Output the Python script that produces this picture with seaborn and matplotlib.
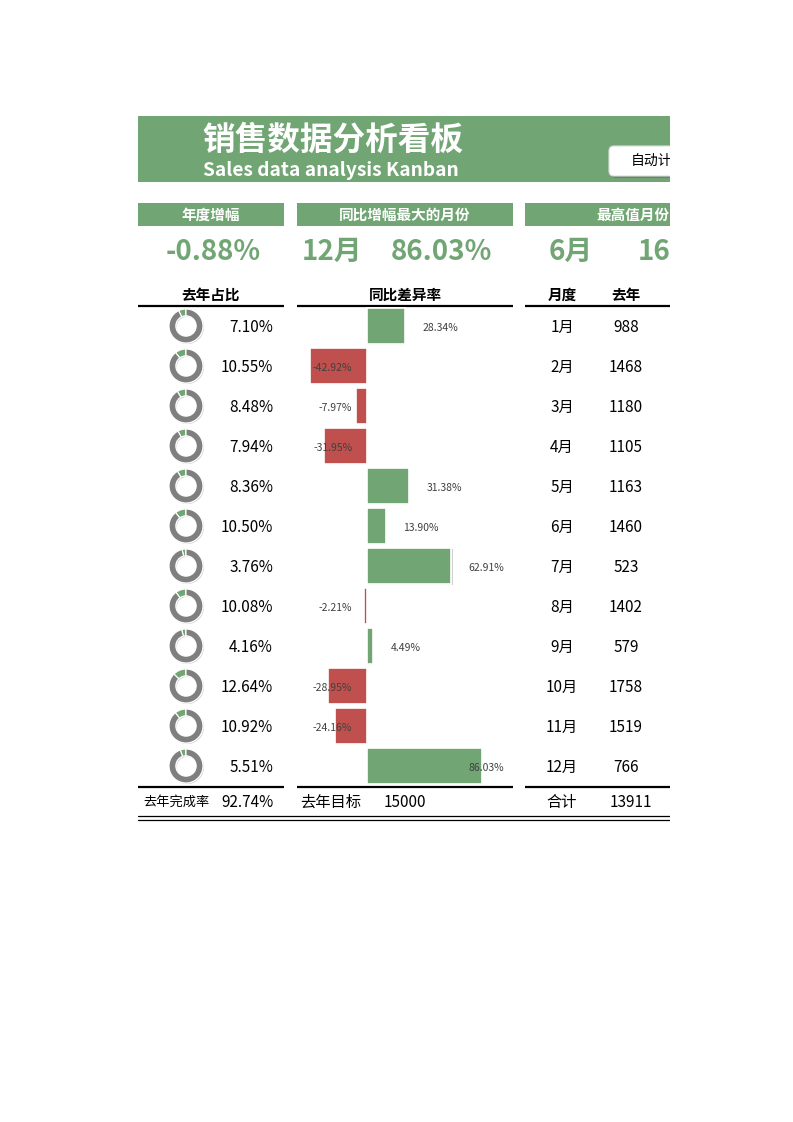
import matplotlib
matplotlib.use("Agg")
import matplotlib.pyplot as plt
import matplotlib.patches as mpatches
import matplotlib.patheffects as pe
import seaborn as sns
import pandas as pd

# ---------------- data ----------------
months = ['1月', '2月', '3月', '4月', '5月', '6月', '7月', '8月', '9月', '10月', '11月', '12月']
last_year = [988, 1468, 1180, 1105, 1163, 1460, 523, 1402, 579, 1758, 1519, 766]
share_pct = [7.10, 10.55, 8.48, 7.94, 8.36, 10.50, 3.76, 10.08, 4.16, 12.64, 10.92, 5.51]
yoy_diff = [28.34, -42.92, -7.97, -31.95, 31.38, 13.90, 62.91, -2.21, 4.49, -28.95, -24.16, 86.03]

title_cn = '销售数据分析看板'
title_en = 'Sales data analysis Kanban'
button_text = '自动计算'
kpi_labels = ['年度增幅', '同比增幅最大的月份', '最高值月份']
kpi_growth = '-0.88%'
kpi_max_month = '12月'
kpi_max_rate = '86.03%'
kpi_top_month = '6月'
kpi_top_value = '1663'
col_headers = ['去年占比', '同比差异率', '月度', '去年']
footer_labels = ['去年完成率', '去年目标', '合计']
footer_values = ['92.74%', '15000', '13911']

GREEN = '#71A574'
RED = '#C0504D'
GRAY = '#7F7F7F'

sns.set_theme(style='white')
plt.rcParams['font.family'] = ['Noto Sans CJK SC', 'DejaVu Sans']

W, H = 793, 1122
fig = plt.figure(figsize=(W / 100, H / 100), dpi=100)
fig.patch.set_facecolor('white')

# background canvas in pixel coordinates, clipped at x=670
CLIP = 670
bg = fig.add_axes([0, 0, CLIP / W, 1])
bg.set_xlim(0, CLIP)
bg.set_ylim(H, 0)
bg.axis('off')

def px_text(x, y, s, **kw):
    kw.setdefault('va', 'center')
    kw.setdefault('ha', 'center')
    t = bg.text(x, y, s, **kw)
    t.set_clip_on(True)
    return t

# header band
bg.add_patch(mpatches.Rectangle((138, 116), 560, 66, color=GREEN, lw=0))
px_text(333, 140, title_cn, color='white', fontsize=23.5, fontweight='bold')
px_text(331, 170, title_en, color='white', fontsize=13.8, fontweight='bold')
btn = mpatches.FancyBboxPatch((609, 146), 90, 30, boxstyle='round,pad=0,rounding_size=5',
                              facecolor='white', edgecolor='#dddddd', lw=0.8,
                              path_effects=[pe.withSimplePatchShadow(offset=(1.5, -1.5), shadow_rgbFace='#555555', alpha=0.4)])
bg.add_patch(btn)
px_text(631, 161, button_text, color='black', fontsize=10, ha='left')

# KPI label boxes
boxes = [(138, 284), (297, 513), (525, 700)]
for (x0, x1) in boxes:
    bg.add_patch(mpatches.Rectangle((x0, 203), x1 - x0, 23, color=GREEN, lw=0))
for lab, x, ha in zip(kpi_labels, [211, 405, 596], ['center', 'center', 'left']):
    px_text(x, 215, lab, color='white', fontsize=10.5, fontweight='bold', ha=ha)

# KPI values
kpi_kw = dict(color=GREEN, fontsize=20, fontweight='bold')
px_text(213, 252, kpi_growth, **kpi_kw)
px_text(302, 252, kpi_max_month, ha='left', **kpi_kw)
px_text(441, 252, kpi_max_rate, **kpi_kw)
px_text(549, 252, kpi_top_month, ha='left', **kpi_kw)
px_text(638, 252, kpi_top_value, ha='left', **kpi_kw)

# column headers
for s, x in zip(col_headers, [211, 405, 562, 626]):
    px_text(x, 295, s, color='black', fontsize=10.5, fontweight='bold')

# rules
for x0, x1 in boxes:
    bg.plot([x0, x1], [306, 306], color='black', lw=1.6, solid_capstyle='butt', clip_on=True)
    bg.plot([x0, x1], [787, 787], color='black', lw=1.6, solid_capstyle='butt', clip_on=True)
bg.plot([138, 700], [816, 816], color='black', lw=0.9, clip_on=True)
bg.plot([138, 700], [819.5, 819.5], color='black', lw=0.9, clip_on=True)

# rows
row_y = [326 + 40 * i for i in range(len(months))]
for i, yc in enumerate(row_y):
    px_text(273, yc + 1, f'{share_pct[i]:.2f}%', color='black', fontsize=11, ha='right')
    px_text(562, yc + 1, months[i], color='black', fontsize=11)
    px_text(626, yc + 1, str(last_year[i]), color='black', fontsize=11)

    # donut
    r = 19
    dax = fig.add_axes([(186 - r) / W, 1 - (yc + r) / H, 2 * r / W, 2 * r / H])
    wedges, _ = dax.pie([share_pct[i], 100 - share_pct[i]], colors=[GREEN, GRAY],
                        startangle=90, counterclock=True,
                        wedgeprops=dict(width=0.40, edgecolor='white', linewidth=0.8))
    for w in wedges:
        w.set_path_effects([pe.withSimplePatchShadow(offset=(0.8, -0.8), shadow_rgbFace='#888888', alpha=0.35),
                            pe.Normal()])
    dax.set_xlim(-1.12, 1.12)
    dax.set_ylim(-1.12, 1.12)
    dax.set_aspect('equal')
    dax.axis('off')

# footer
px_text(176, 802, footer_labels[0], color='black', fontsize=9.5)
px_text(248, 802, footer_values[0], color='black', fontsize=11)
px_text(331, 802, footer_labels[1], color='black', fontsize=11)
px_text(405, 802, footer_values[1], color='black', fontsize=11)
px_text(562, 802, footer_labels[2], color='black', fontsize=11)
px_text(631, 802, footer_values[2], color='black', fontsize=11)

# ---------------- bar chart (seaborn) ----------------
bax = fig.add_axes([297 / W, 1 - 786 / H, 216 / W, 480 / H])
df = pd.DataFrame({'month': months, 'diff': yoy_diff,
                   'sign': ['pos' if v >= 0 else 'neg' for v in yoy_diff]})
sns.barplot(data=df, x='diff', y='month', hue='sign', palette={'pos': GREEN, 'neg': RED},
            dodge=False, legend=False, width=0.9, orient='h', ax=bax, saturation=1,
            edgecolor='white', linewidth=1.2)
for p in bax.patches:
    p.set_path_effects([pe.withSimplePatchShadow(offset=(1, -1), shadow_rgbFace='#777777', alpha=0.35),
                        pe.Normal()])
bax.set_xlim(-52.4, 109.2)
bax.set_ylim(11.5, -0.5)
bax.axis('off')
bax.patch.set_alpha(0)

for i, v in enumerate(yoy_diff):
    lab = f'{v:.2f}%'
    if v >= 0:
        if v + 13 > 70:
            bax.text(102.5, i + 0.05, lab, ha='right', va='center', fontsize=7.5, color='#404040')
        else:
            bax.text(v + 13, i + 0.05, lab, ha='left', va='center', fontsize=7.5, color='#404040')
    else:
        bax.text(-11, i + 0.05, lab, ha='right', va='center', fontsize=7.5, color='#404040')

fig.savefig('out.png', dpi=100, facecolor='white')
